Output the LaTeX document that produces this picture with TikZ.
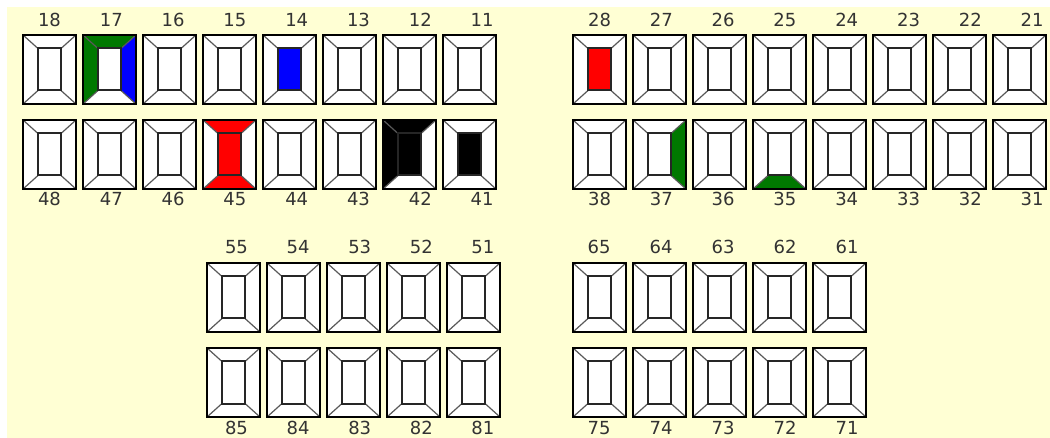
\documentclass[tikz,border=0pt]{standalone}
\usepackage{fontspec}
\setmainfont{DejaVu Sans}
\usepackage{tikz}

\definecolor{chartbg}{RGB}{255,255,212}
\definecolor{surfgreen}{RGB}{0,120,0}
\definecolor{surfblue}{RGB}{0,0,255}
\definecolor{surfred}{RGB}{255,0,0}

\tikzset{
  toothedge/.style={line width=2.4pt, black},
  toothcore/.style={line width=2pt, black!85},
  toothdiag/.style={line width=1.2pt, black!65},
  num/.style={font=\fontsize{18}{18}\selectfont, text=black!80, inner sep=0pt,
    text height=13pt, text depth=0pt}
}

% one tooth: x, y, top, right, bottom, left, centre
\newcommand{\drawtooth}[7]{%
  \begin{scope}[shift={(#1,#2)}]
    \fill[#3] (0,0) -- (53,0) -- (38,13.5) -- (15,13.5) -- cycle;
    \fill[#4] (53,0) -- (53,69) -- (38,55.5) -- (38,13.5) -- cycle;
    \fill[#5] (0,69) -- (53,69) -- (38,55.5) -- (15,55.5) -- cycle;
    \fill[#6] (0,0) -- (0,69) -- (15,55.5) -- (15,13.5) -- cycle;
    \fill[#7] (15,13.5) rectangle (38,55.5);
    \draw[toothdiag] (0,0) -- (15,13.5) (53,0) -- (38,13.5)
      (0,69) -- (15,55.5) (53,69) -- (38,55.5);
    \draw[toothcore] (15,13.5) rectangle (38,55.5);
    \draw[toothedge] (0,0) rectangle (53,69);
  \end{scope}}

\begin{document}
\begin{tikzpicture}[x=1pt, y=-1pt]
  \useasboundingbox (0,0) rectangle (1050,438);
  \fill[chartbg] (7,7) rectangle (1050,438);

  % permanent teeth, upper jaw
  \foreach \n [count=\i from 0] in {18,17,16,15,14,13,12,11} {
    \drawtooth{23+60*\i}{35}{white}{white}{white}{white}{white}
    \node[num] (n\n) at (49.5+61.8*\i,20) {\n};
  }
  \foreach \n [count=\i from 0] in {28,27,26,25,24,23,22,21} {
    \drawtooth{573+60*\i}{35}{white}{white}{white}{white}{white}
    \node[num] (n\n) at (599.5+61.8*\i,20) {\n};
  }
  % permanent teeth, lower jaw
  \foreach \n [count=\i from 0] in {48,47,46,45,44,43,42,41} {
    \drawtooth{23+60*\i}{120}{white}{white}{white}{white}{white}
    \node[num] (n\n) at (49.5+61.8*\i,199.5) {\n};
  }
  \foreach \n [count=\i from 0] in {38,37,36,35,34,33,32,31} {
    \drawtooth{573+60*\i}{120}{white}{white}{white}{white}{white}
    \node[num] (n\n) at (599.5+61.8*\i,199.5) {\n};
  }

  % milk teeth
  \foreach \n [count=\i from 0] in {55,54,53,52,51} {
    \drawtooth{207+60*\i}{263}{white}{white}{white}{white}{white}
    \node[num] (n\n) at (236.5+61.6*\i,247.5) {\n};
  }
  \foreach \n [count=\i from 0] in {65,64,63,62,61} {
    \drawtooth{573+60*\i}{263}{white}{white}{white}{white}{white}
    \node[num] (n\n) at (599+62*\i,247.5) {\n};
  }
  \foreach \n [count=\i from 0] in {85,84,83,82,81} {
    \drawtooth{207+60*\i}{348}{white}{white}{white}{white}{white}
    \node[num] (n\n) at (236.5+61.6*\i,427.5) {\n};
  }
  \foreach \n [count=\i from 0] in {75,74,73,72,71} {
    \drawtooth{573+60*\i}{348}{white}{white}{white}{white}{white}
    \node[num] (n\n) at (599+62*\i,427.5) {\n};
  }

  % marked surfaces
  \drawtooth{83}{35}{surfgreen}{surfblue}{white}{surfgreen}{white}
  \drawtooth{263}{35}{white}{white}{white}{white}{surfblue}
  \drawtooth{203}{120}{surfred}{white}{surfred}{white}{surfred}
  \drawtooth{383}{120}{black}{white}{white}{black}{black}
  \drawtooth{443}{120}{white}{white}{white}{white}{black}
  \drawtooth{573}{35}{white}{white}{white}{white}{surfred}
  \drawtooth{633}{120}{white}{surfgreen}{white}{white}{white}
  \drawtooth{753}{120}{white}{white}{surfgreen}{white}{white}
\end{tikzpicture}
\end{document}
